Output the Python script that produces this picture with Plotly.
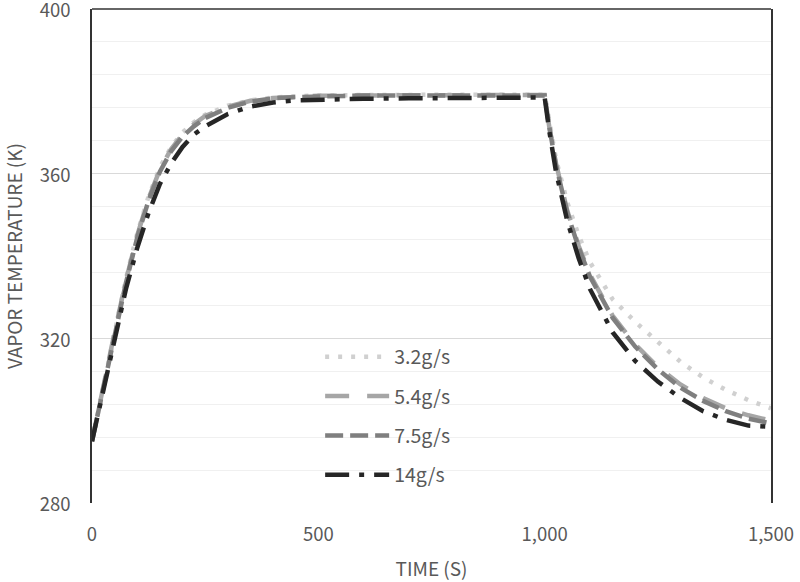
import plotly.graph_objects as go

time_s = [0, 25, 50, 75, 100, 125, 150, 175, 200, 225, 250, 300, 350, 400, 450, 500,
          600, 700, 800, 900, 1000, 1010, 1025, 1050, 1075, 1100, 1150, 1200, 1250,
          1300, 1350, 1400, 1450, 1500]

temp_3_2 = [295, 308.5, 322, 334.5, 345.5, 354.5, 361.5, 366.5, 370, 372.5, 374.3, 376.5,
            377.8, 378.5, 378.8, 379, 379.1, 379.2, 379.2, 379.2, 379.2, 372.5, 363.5,
            353, 345, 338.5, 329.5, 324, 319, 314.3, 310.5, 307.5, 305, 303]
temp_5_4 = [295, 308.5, 321.5, 334, 345, 354, 361, 366, 369.5, 372, 374, 376.3, 377.7,
            378.4, 378.7, 378.9, 379, 379.1, 379.1, 379.1, 379.1, 371.5, 362.5, 351,
            342.5, 335.5, 325.5, 318.5, 313, 308.8, 305.5, 303, 301.3, 300]
temp_7_5 = [295, 308, 321, 333.5, 344.5, 353.5, 360.5, 365.5, 369, 371.5, 373.5, 376,
            377.5, 378.3, 378.6, 378.8, 379, 379, 379, 379, 379, 371.5, 362, 350.5, 342,
            335, 325, 318, 312.5, 308, 304.8, 302.3, 300.5, 299.3]
temp_14 = [295, 307.5, 320, 332, 342, 350.5, 357.5, 362.5, 366.5, 369.5, 371.5, 374.5,
           376.3, 377.3, 377.8, 378, 378.2, 378.3, 378.3, 378.3, 378.5, 370.5, 360.5,
           348.5, 339.5, 332, 321.5, 314.5, 309.5, 305.5, 302.3, 300.2, 298.8, 298.5]

series_names = ["3.2g/s", "5.4g/s", "7.5g/s", "14g/s"]
series_values = [temp_3_2, temp_5_4, temp_7_5, temp_14]
series_colors = ["#d0d0d0", "#a6a6a6", "#7f7f7f", "#262626"]
series_dashes = ["4px,9px", "24px,18px", "18px,7px", "24px,10px,5px,10px"]

x_ticks = [0, 500, 1000, 1500]
x_ticklabels = ["0", "500", "1,000", "1,500"]
y_ticks = [280, 320, 360, 400]

FONT = "Noto Sans CJK KR"
GREY = "#595959"

fig = go.Figure()
for i, (name, vals, col, dash) in enumerate(zip(series_names, series_values, series_colors, series_dashes)):
    fig.add_trace(go.Scatter(
        x=time_s, y=vals, name=name, mode="lines",
        line=dict(color=col, width=4.5, dash=dash),
        legendgroup=f"g{i}",
    ))

fig.update_layout(
    width=800, height=582,
    margin=dict(l=92, r=29, t=9, b=79, autoexpand=False),
    plot_bgcolor="white", paper_bgcolor="white",
    font=dict(family=FONT, color=GREY, size=18),
    showlegend=True,
    legend=dict(
        x=0.336, y=0.335, xanchor="left", yanchor="top",
        bgcolor="rgba(0,0,0,0)", itemwidth=64,
        font=dict(family=FONT, size=19.5, color=GREY),
        tracegroupgap=11, traceorder="grouped",
    ),
    xaxis=dict(
        range=[0, 1500], tickvals=x_ticks, ticktext=x_ticklabels,
        showgrid=False, zeroline=False, showline=False, automargin=False,
        tickfont=dict(size=18.5, color=GREY), ticklabeloverflow="allow",
        title=dict(text="TIME (S)", font=dict(size=19, color=GREY), standoff=18),
        ticks="", ticklabelstandoff=18,
    ),
    yaxis=dict(
        range=[280, 400], tickvals=y_ticks, automargin=False,
        showgrid=True, gridcolor="#d9d9d9", gridwidth=1,
        minor=dict(dtick=8, tick0=280, showgrid=True, gridcolor="#f0f0f0", gridwidth=1),
        zeroline=False, showline=True, linecolor="#333333", linewidth=1.5, mirror=True,
        tickfont=dict(size=18.5, color=GREY), ticklabeloverflow="allow",
        title=dict(text="VAPOR TEMPERATURE (K)", font=dict(size=19, color=GREY), standoff=14),
        ticks="", ticklabelstandoff=16, ticklabelshift=2,
    ),
    shapes=[
        dict(type="line", xref="paper", yref="paper", x0=0, x1=1, y0=1, y1=1,
             line=dict(color="#333333", width=1.5)),
    ],
)

fig.write_html(
    "out.html",
    config={"displayModeBar": False},
    post_script="document.body.style.margin='0';document.body.style.overflow='hidden';",
)
